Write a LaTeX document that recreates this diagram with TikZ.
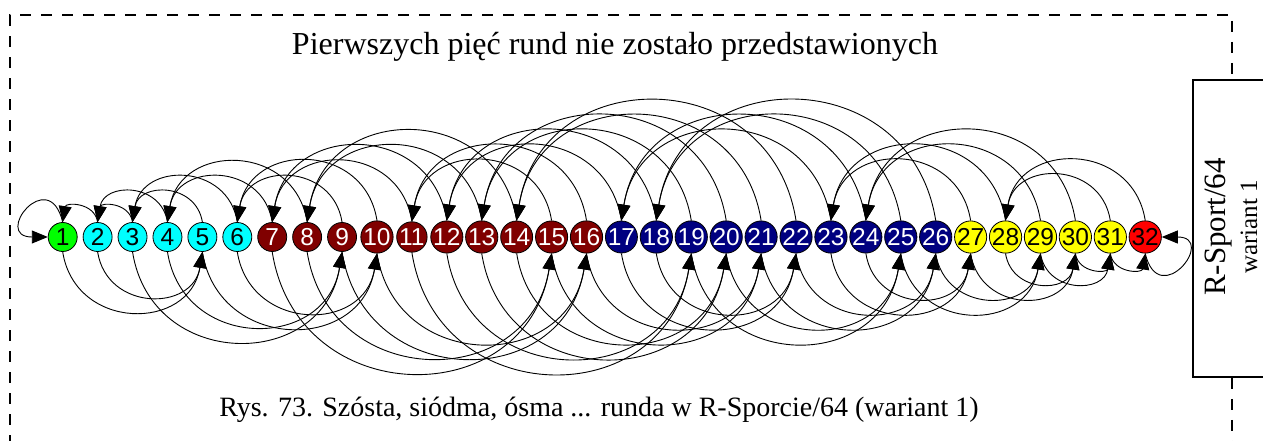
\documentclass[tikz,border=0pt]{standalone}
\usepackage{fontspec}
\setmainfont{Liberation Serif}
\newfontfamily\boardfont{Liberation Sans}
\usetikzlibrary{positioning, arrows.meta}
\definecolor{rsgreen}{HTML}{00FF00}
\definecolor{rscyan}{HTML}{00FFFF}
\definecolor{rsmaroon}{HTML}{800000}
\definecolor{rsnavy}{HTML}{000080}
\definecolor{rsyellow}{HTML}{FFFF00}
\definecolor{rsred}{HTML}{FF0000}

\tikzset{
  board/.style={circle,draw=black,line width=0.8pt,minimum size=29pt,inner sep=0pt,font=\boardfont\fontsize{24.5}{24.5}\selectfont},
  bgreen/.style={board,fill=rsgreen},
  bcyan/.style={board,fill=rscyan},
  bmaroon/.style={board,fill=rsmaroon,text=white},
  bnavy/.style={board,fill=rsnavy,text=white},
  byellow/.style={board,fill=rsyellow},
  bred/.style={board,fill=rsred},
  tip/.style={-{Triangle[length=16pt,width=13pt]},line width=0.9pt},
  win/.style={tip,out=99,in=81,looseness=1.48},
  lose/.style={tip,out=-81,in=-99,looseness=1.48},
  frame/.style={line width=1.2pt,dash pattern=on 11pt off 10pt}
}

\begin{document}
\begin{tikzpicture}[x=1pt,y=1pt,node distance=34.92pt,on grid]
  \useasboundingbox(0,0)rectangle(1263,441);
  \draw[frame](10,-5)--(10,426)--(1232,426)--(1232,-5);
  \draw[fill=white,line width=1.2pt](1193,64)rectangle(1290,361);
  \node[rotate=90,font=\fontsize{31}{31}\selectfont](rsport)at(1219,214){R-Sport/64};
  \node[rotate=90,font=\fontsize{25}{25}\selectfont](wariant)at(1249,214){wariant 1};
  \node[font=\fontsize{32}{32}\selectfont](title)at(615,394){Pierwszych pięć rund nie zostało przedstawionych};
  \node[font=\fontsize{28}{28}\selectfont](caption)at(599,31){Rys. 73. Szósta, siódma, ósma ... runda w R-Sporcie/64 (wariant 1)};
  % boards
  \node[bgreen](n1)at(62.7,204){1};
  \node[bcyan,right=of n1](n2){2};\node[bcyan,right=of n2](n3){3};\node[bcyan,right=of n3](n4){4};
  \node[bcyan,right=of n4](n5){5};\node[bcyan,right=of n5](n6){6};
  \node[bmaroon,right=of n6](n7){7};\node[bmaroon,right=of n7](n8){8};\node[bmaroon,right=of n8](n9){9};
  \node[bmaroon,right=of n9](n10){10};\node[bmaroon,right=of n10](n11){11};\node[bmaroon,right=of n11](n12){12};
  \node[bmaroon,right=of n12](n13){13};\node[bmaroon,right=of n13](n14){14};\node[bmaroon,right=of n14](n15){15};
  \node[bmaroon,right=of n15](n16){16};
  \node[bnavy,right=of n16](n17){17};\node[bnavy,right=of n17](n18){18};\node[bnavy,right=of n18](n19){19};
  \node[bnavy,right=of n19](n20){20};\node[bnavy,right=of n20](n21){21};\node[bnavy,right=of n21](n22){22};
  \node[bnavy,right=of n22](n23){23};\node[bnavy,right=of n23](n24){24};\node[bnavy,right=of n24](n25){25};
  \node[bnavy,right=of n25](n26){26};
  \node[byellow,right=of n26](n27){27};\node[byellow,right=of n27](n28){28};\node[byellow,right=of n28](n29){29};
  \node[byellow,right=of n29](n30){30};\node[byellow,right=of n30](n31){31};
  \node[bred,right=of n31](n32){32};
  % winners (top)
  \draw[tip](n1.north)..controls +(-14,58) and +(-56,0)..(n1.west);
  \draw[win](n2.north)to(n1.north);\draw[win](n3.north)to(n2.north);\draw[win](n4.north)to(n2.north);
  \draw[win](n5.north)to(n3.north);\draw[win](n6.north)to(n3.north);\draw[win](n7.north)to(n4.north);
  \draw[win](n8.north)to(n4.north);\draw[win](n9.north)to(n6.north);\draw[win](n10.north)to(n6.north);
  \draw[win](n11.north)to(n7.north);\draw[win](n12.north)to(n7.north);\draw[win](n13.north)to(n8.north);
  \draw[win](n14.north)to(n8.north);\draw[win](n15.north)to(n11.north);\draw[win](n16.north)to(n11.north);
  \draw[win](n17.north)to(n12.north);\draw[win](n18.north)to(n12.north);\draw[win](n19.north)to(n13.north);
  \draw[win](n20.north)to(n13.north);\draw[win](n21.north)to(n14.north);\draw[win](n22.north)to(n14.north);
  \draw[win](n23.north)to(n17.north);\draw[win](n24.north)to(n17.north);\draw[win](n25.north)to(n18.north);
  \draw[win](n26.north)to(n18.north);\draw[win](n27.north)to(n23.north);\draw[win](n28.north)to(n23.north);
  \draw[win](n29.north)to(n24.north);\draw[win](n30.north)to(n24.north);\draw[win](n31.north)to(n28.north);
  \draw[win](n32.north)to(n28.north);
  % losers (bottom)
  \draw[lose](n1.south)to(n5.south);\draw[lose](n2.south)to(n5.south);\draw[lose](n3.south)to(n9.south);
  \draw[lose](n4.south)to(n9.south);\draw[lose](n5.south)to(n10.south);\draw[lose](n6.south)to(n10.south);
  \draw[lose](n7.south)to(n15.south);\draw[lose](n8.south)to(n15.south);\draw[lose](n9.south)to(n16.south);
  \draw[lose](n10.south)to(n16.south);\draw[lose](n11.south)to(n19.south);\draw[lose](n12.south)to(n19.south);
  \draw[lose](n13.south)to(n20.south);\draw[lose](n14.south)to(n20.south);\draw[lose](n15.south)to(n21.south);
  \draw[lose](n16.south)to(n21.south);\draw[lose](n17.south)to(n22.south);\draw[lose](n18.south)to(n22.south);
  \draw[lose](n19.south)to(n25.south);\draw[lose](n20.south)to(n25.south);\draw[lose](n21.south)to(n26.south);
  \draw[lose](n22.south)to(n26.south);\draw[lose](n23.south)to(n27.south);\draw[lose](n24.south)to(n27.south);
  \draw[lose](n25.south)to(n29.south);\draw[lose](n26.south)to(n29.south);\draw[lose](n27.south)to(n30.south);
  \draw[lose](n28.south)to(n30.south);\draw[lose](n29.south)to(n31.south);\draw[lose](n30.south)to(n31.south);
  \draw[lose](n31.south)to(n32.south);
  \draw[tip](n32.south)..controls +(14,-58) and +(56,0)..(n32.east);
\end{tikzpicture}
\end{document}
